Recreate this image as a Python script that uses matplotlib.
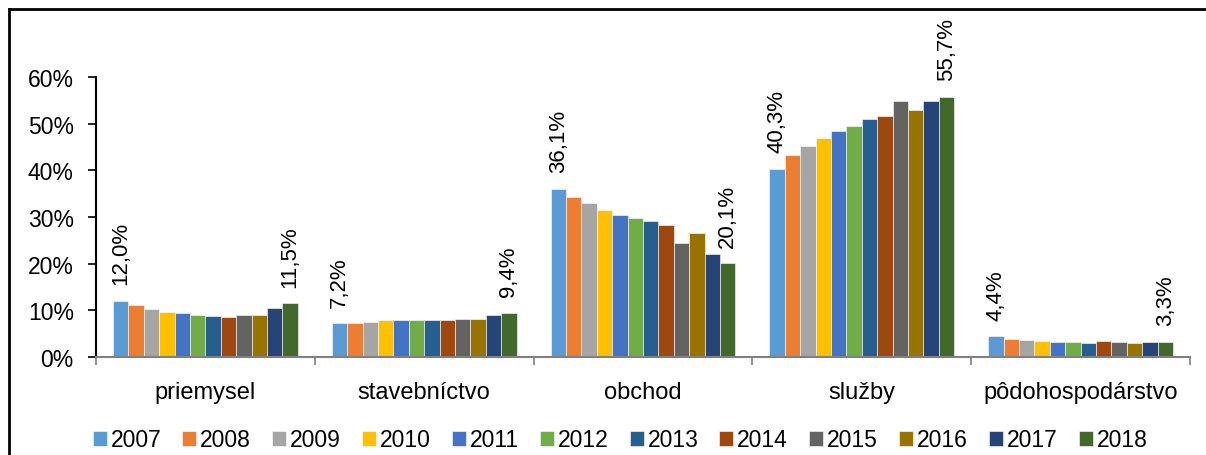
import numpy as np
import matplotlib.pyplot as plt
from matplotlib.lines import Line2D
from matplotlib.ticker import FuncFormatter

plt.rcParams['font.family'] = ['Liberation Sans', 'DejaVu Sans']

# data (share of employment, %)
categories = ["priemysel", "stavebníctvo", "obchod", "služby", "pôdohospodárstvo"]
years = ["2007", "2008", "2009", "2010", "2011", "2012",
         "2013", "2014", "2015", "2016", "2017", "2018"]
priemysel = [12.0, 11.1, 10.2, 9.6, 9.4, 9.0, 8.7, 8.5, 9.1, 8.9, 10.4, 11.5]
stavebnictvo = [7.2, 7.3, 7.6, 7.9, 7.9, 8.0, 7.9, 7.9, 8.2, 8.1, 8.9, 9.4]
obchod = [36.1, 34.2, 33.0, 31.5, 30.4, 29.7, 29.1, 28.2, 24.4, 26.5, 22.0, 20.1]
sluzby = [40.3, 43.2, 45.2, 47.0, 48.4, 49.6, 51.0, 51.6, 54.8, 52.9, 54.9, 55.7]
podohosp = [4.4, 3.9, 3.7, 3.4, 3.2, 3.2, 3.0, 3.4, 3.2, 3.1, 3.2, 3.3]
colors = ["#5B9BD5", "#ED7D31", "#A5A5A5", "#FFC000", "#4472C4", "#70AD47",
          "#255E91", "#9E480E", "#636363", "#997300", "#264478", "#43682B"]

values = np.array([priemysel, stavebnictvo, obchod, sluzby, podohosp]) / 100

fig = plt.figure(figsize=(12.06, 4.56), dpi=100)
ax = fig.add_axes([96 / 1206, 1 - 358 / 456, 1094 / 1206, 280 / 456])

n = len(years)
group_w = 0.845
bar_w = group_w / n
x = np.arange(len(categories))
for i, year in enumerate(years):
    pos = x - group_w / 2 + bar_w * (i + 0.5)
    ax.bar(pos, values[:, i], width=bar_w, color=colors[i], label=year,
           edgecolor="white", linewidth=0.4)
    # labels only on first and last year
    if i in (0, n - 1):
        for px, v in zip(pos, values[:, i]):
            ax.annotate(f"{v * 100:.1f}%".replace(".", ","), (px, v),
                        xytext=(0, 12), textcoords="offset points",
                        rotation=90, ha="center", va="bottom",
                        fontsize=16, annotation_clip=False)

ax.set_xlim(-0.5, len(categories) - 0.5)
ax.set_ylim(0, 0.6)
ax.set_yticks(np.arange(0, 0.61, 0.1))
ax.yaxis.set_major_formatter(FuncFormatter(lambda v, p: f"{v * 100:.0f}%"))
ax.set_xticks(x)
ax.set_xticklabels(categories)
ax.set_xticks(np.arange(-0.5, len(categories)), minor=True)
ax.tick_params(axis="x", which="major", length=0, labelsize=17, pad=17)
ax.tick_params(axis="x", which="minor", length=6, color="#808080", width=1.2)
ax.tick_params(axis="y", length=6, width=1.2, labelsize=16.5, pad=10)

for side in ("top", "right"):
    ax.spines[side].set_visible(False)
ax.spines["left"].set_linewidth(1.5)
ax.spines["bottom"].set_color("#808080")
ax.spines["bottom"].set_linewidth(1.5)

fig.legend(loc="center", bbox_to_anchor=(620 / 1206, 1 - 441 / 456), ncol=n,
           frameon=False, fontsize=16.5, handlelength=0.61, handleheight=0.61,
           handletextpad=0.17, columnspacing=0.92)

# outer chart frame (partly cut off in the original)
fig.add_artist(Line2D([9 / 1206, 1], [1 - 9.5 / 456] * 2, color="black", lw=2))
fig.add_artist(Line2D([9 / 1206] * 2, [0, 1 - 9.5 / 456], color="black", lw=2))

fig.savefig("out.png", dpi=100)
